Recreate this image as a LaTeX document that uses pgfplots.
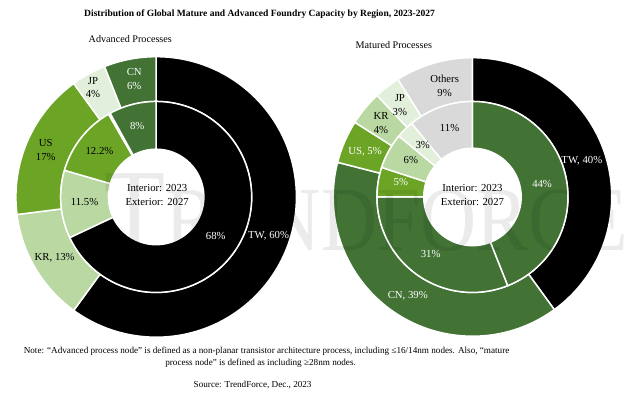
\documentclass[border=0pt]{standalone}
\usepackage{fontspec}
\setmainfont{Liberation Serif}
\usepackage{pgfplots}
\usepackage{pgfplotstable}
\pgfplotsset{compat=1.18}

\definecolor{cTW}{RGB}{0,0,0}
\definecolor{cCN}{RGB}{66,114,52}
\definecolor{cUS}{RGB}{108,165,38}
\definecolor{cKR}{RGB}{185,216,162}
\definecolor{cJP}{RGB}{226,239,218}
\definecolor{cOT}{RGB}{217,217,217}

% Advanced processes, exterior ring = 2027
\pgfplotstableread{
region val col
TW 60 cTW
KR 13 cKR
US 17 cUS
JP 4 cJP
CN 6 cCN
}\advOut
% Advanced processes, interior ring = 2023
\pgfplotstableread{
region val col
TW 68 cTW
KR 11.5 cKR
US 12.2 cUS
JP 0.3 cJP
CN 8 cCN
}\advIn
% Matured processes, exterior ring = 2027
\pgfplotstableread{
region val col
TW 40 cTW
CN 39 cCN
US 5 cUS
KR 4 cKR
JP 3 cJP
Others 9 cOT
}\matOut
% Matured processes, interior ring = 2023
\pgfplotstableread{
region val col
TW 44 cCN
CN 31 cCN
US 5 cUS
KR 6 cKR
JP 3 cJP
Others 11 cOT
}\matIn

\newcommand{\ring}[5]{% #1 table, #2 cx, #3 cy, #4 r_in, #5 r_out
  \pgfplotstablegetrowsof{#1}%
  \pgfmathtruncatemacro{\lastrow}{\pgfplotsretval-1}%
  \gdef\cum{0}%
  \foreach \i in {0,...,\lastrow}{%
    \pgfplotstablegetelem{\i}{val}\of{#1}\let\wval\pgfplotsretval
    \pgfplotstablegetelem{\i}{col}\of{#1}\let\wcol\pgfplotsretval
    \pgfmathsetmacro{\aA}{90-3.6*\cum}%
    \pgfmathsetmacro{\aB}{90-3.6*(\cum+\wval)}%
    \pgfmathsetmacro{\xA}{#2+#5*cos(\aA)}%
    \pgfmathsetmacro{\yA}{#3+#5*sin(\aA)}%
    \pgfmathsetmacro{\xB}{#2+#4*cos(\aB)}%
    \pgfmathsetmacro{\yB}{#3+#4*sin(\aB)}%
    \edef\dowedge{\noexpand\fill[fill=\wcol, draw=white, line width=1.5pt, line join=round]
      (axis cs:\xA,\yA) arc[start angle=\aA, end angle=\aB, radius=#5pt]
      -- (axis cs:\xB,\yB) arc[start angle=\aB, end angle=\aA, radius=#4pt] -- cycle;}%
    \dowedge
    \pgfmathsetmacro{\newcum}{\cum+\wval}%
    \xdef\cum{\newcum}%
  }%
}

\begin{document}
\begin{tikzpicture}
\begin{axis}[
  scale only axis, width=628pt, height=399pt,
  xmin=0, xmax=628, ymin=0, ymax=399,
  hide axis, clip=false,
]
\path (axis cs:0,0) rectangle (axis cs:628,399);

\ring{\advOut}{157}{201}{96}{141}
\ring{\advIn}{157}{201}{48}{96}
\ring{\matOut}{475}{201}{96}{140}
\ring{\matIn}{475}{201}{49}{96}

% labels
\tikzset{lab/.style={font=\fontsize{10.8}{14}\selectfont, align=center, inner sep=0pt}}
% left
\node[lab, white] at (axis cs:135,320) {CN\\6\%};
\node[lab] at (axis cs:93.5,311) {JP\\4\%};
\node[lab] at (axis cs:46,248) {US\\17\%};
\node[lab] at (axis cs:55,140) {KR, 13\%};
\node[lab, white] at (axis cs:270,162) {TW, 60\%};
\node[lab, white] at (axis cs:138,272) {8\%};
\node[lab] at (axis cs:100,247) {12.2\%};
\node[lab] at (axis cs:85,196) {11.5\%};
\node[lab, white] at (axis cs:217,162) {68\%};
\node[lab] at (axis cs:158,203) {Interior: 2023\\Exterior: 2027};
% right
\node[lab] at (axis cs:447,313) {Others\\9\%};
\node[lab] at (axis cs:402,293.5) {JP\\3\%};
\node[lab] at (axis cs:383,275) {KR\\4\%};
\node[lab, white] at (axis cs:367,246) {US, 5\%};
\node[lab, white] at (axis cs:410,102) {CN, 39\%};
\node[lab, white] at (axis cs:585,237) {TW, 40\%};
\node[lab] at (axis cs:452,270) {11\%};
\node[lab] at (axis cs:425,253) {3\%};
\node[lab] at (axis cs:413,238) {6\%};
\node[lab, white] at (axis cs:403,216) {5\%};
\node[lab, white] at (axis cs:433,144) {31\%};
\node[lab, white] at (axis cs:545,214) {44\%};
\node[lab] at (axis cs:475,203) {Interior: 2023\\Exterior: 2027};

% watermark
\node[anchor=base west, inner sep=0pt, opacity=0.08, xscale=0.85] at (axis cs:105,147)
  {{\fontsize{118}{118}\selectfont T}{\fontsize{92}{92}\selectfont RENDFORCE}};

% titles
\node[font=\bfseries\fontsize{9.6}{11}\selectfont, inner sep=0pt] at (axis cs:261,385)
  {Distribution of Global Mature and Advanced Foundry Capacity by Region, 2023-2027};
\node[font=\fontsize{10.2}{12}\selectfont, inner sep=0pt] at (axis cs:131,360) {Advanced Processes};
\node[font=\fontsize{10.2}{12}\selectfont, inner sep=0pt] at (axis cs:396,354) {Matured Processes};

% notes
\node[font=\fontsize{9.2}{11}\selectfont, inner sep=0pt] at (axis cs:268,46)
  {Note: “Advanced process node” is defined as a non-planar transistor architecture process, including ≤16/14nm nodes. Also, “mature};
\node[font=\fontsize{9.2}{11}\selectfont, inner sep=0pt] at (axis cs:262,34)
  {process node” is defined as including ≥28nm nodes.};
\node[font=\fontsize{9.2}{11}\selectfont, inner sep=0pt] at (axis cs:254,12)
  {Source: TrendForce, Dec., 2023};
\end{axis}
\end{tikzpicture}
\end{document}
